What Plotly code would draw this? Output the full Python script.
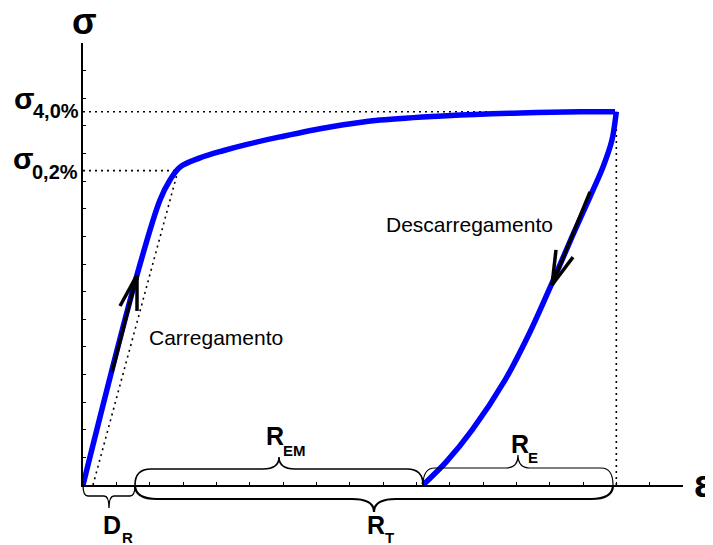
import plotly.graph_objects as go

# ---------------- data (axis units: strain ticks 0..18, stress ticks 0..16) ----------------
strain_loading = [0.0, 1.62, 2.31, 2.61, 2.91, 3.51, 4.20, 4.92, 5.91, 7.41, 8.91, 10.92, 12.90, 14.91, 15.96]
stress_loading = [0.0, 7.60, 10.32, 11.04, 11.51, 11.84, 12.10, 12.33, 12.60, 12.96, 13.21, 13.37, 13.46, 13.51, 13.51]

strain_unloading = [16.00, 15.87, 15.60, 15.21, 14.67, 14.07, 13.41, 12.66, 11.67, 10.89, 10.20]
stress_unloading = [13.51, 12.49, 11.51, 10.43, 8.98, 7.31, 5.54, 3.80, 1.99, 0.83, 0.0]

sigma_02 = 11.38          # stress at 0.2 % offset
sigma_40 = 13.51          # stress at 4.0 %
strain_40 = 16.0          # strain at 4.0 %
offset_start = 0.30       # start of 0.2 % offset line
knee_strain = 2.85        # strain at sigma_0,2%
residual_strain = 10.20   # residual strain after unloading
dr_end = 1.56             # end of D_R interval
rt_end = 15.9             # end of R_T / R_E intervals

# arrows: (tail_x, tail_y, tip_x, tip_y, head1_x, head1_y, head2_x, head2_y)
arrow_loading = [0.87, 4.09, 1.62, 7.60, 1.11, 6.48, 1.62, 6.30]
arrow_unloading = [15.21, 10.61, 14.07, 7.24, 14.19, 8.51, 14.70, 8.25]

X_MAX, Y_MAX = 18, 16

# ---------------- layout helpers ----------------
OFF = 8                      # browser body margin
L, T, W, H = 83, 43, 600, 442
FIG_W, FIG_H = 713 - OFF, 545 - OFF

def PX(px):                  # reference pixel -> paper x
    return (px - L) / W
def PY(py):                  # reference pixel -> paper y
    return (T + H - py) / H
def DX(v):                   # data x -> paper x
    return v / X_MAX

FONT = "Liberation Sans, Arial, sans-serif"

fig = go.Figure()

fig.add_trace(go.Scatter(x=strain_loading, y=stress_loading, mode="lines",
                         line=dict(color="#0000ff", width=5.5, shape="spline", smoothing=1.0),
                         hoverinfo="skip", showlegend=False, cliponaxis=False))
fig.add_trace(go.Scatter(x=strain_unloading, y=stress_unloading, mode="lines",
                         line=dict(color="#0000ff", width=5.5, shape="spline", smoothing=0.8),
                         hoverinfo="skip", showlegend=False, cliponaxis=False))

dot = dict(color="black", width=1.6, dash="2px,4px")
shapes = [
    dict(type="line", x0=0, y0=sigma_40, x1=strain_40, y1=sigma_40, line=dot, layer="below"),
    dict(type="line", x0=0, y0=sigma_02, x1=knee_strain, y1=sigma_02, line=dot, layer="below"),
    dict(type="line", x0=strain_40, y0=0, x1=strain_40, y1=sigma_40, line=dot, layer="below"),
    dict(type="line", x0=offset_start, y0=0, x1=knee_strain, y1=sigma_02, line=dot, layer="below"),
]

for a in (arrow_loading, arrow_unloading):
    st = dict(color="black", width=3.5)
    shapes.append(dict(type="line", x0=a[0], y0=a[1], x1=a[2], y1=a[3], line=st))
    shapes.append(dict(type="line", x0=a[4], y0=a[5], x1=a[2], y1=a[3], line=st))
    shapes.append(dict(type="line", x0=a[6], y0=a[7], x1=a[2], y1=a[3], line=st))

def brace(x0, x1, yh_px, ytip_px, r_px, width):
    # x0, x1 in data units; vertical offsets / radius in reference pixels
    p0, p1 = DX(x0), DX(x1)
    pm = (p0 + p1) / 2
    r = r_px / W
    yh, yt = PY(T + H + yh_px), PY(T + H + ytip_px)
    path = (f"M {p0},0 Q {p0},{yh} {p0 + r},{yh} L {pm - r},{yh} "
            f"Q {pm},{yh} {pm},{yt} Q {pm},{yh} {pm + r},{yh} "
            f"L {p1 - r},{yh} Q {p1},{yh} {p1},0")
    return dict(type="path", xref="paper", yref="paper", path=path,
                line=dict(color="black", width=width))

shapes.append(brace(0, dr_end, 11, 23, 5, 1.3))
shapes.append(brace(dr_end, rt_end, 14, 27, 22, 2.2))
shapes.append(brace(dr_end, residual_strain, -16, -28, 16, 1.6))
shapes.append(brace(residual_strain, rt_end, -17, -30, 12, 1.2))

ann = []
def txt(s, px, py, size, bold=True, xanchor="center"):
    ann.append(dict(x=PX(px), y=PY(py), xref="paper", yref="paper",
                    text=f"<b>{s}</b>" if bold else s,
                    showarrow=False, xanchor=xanchor, yanchor="middle",
                    font=dict(family=FONT, size=size, color="black")))

txt("σ", 84, 22, 36)
txt("σ", 24, 98, 30)
txt("4,0%", 56, 111, 20)
txt("σ", 23, 158, 30)
txt("0,2%", 55, 172, 20)
txt("ε", 692, 484, 38, xanchor="left")
txt("Carregamento", 147, 337, 21, bold=False, xanchor="left")
txt("Descarregamento", 384, 224, 21, bold=False, xanchor="left")
txt("R", 275, 436, 25)
txt("EM", 294, 450, 15)
txt("R", 520, 444, 25)
txt("E", 533, 457, 15)
txt("D", 112, 525, 25)
txt("R", 127, 537, 15)
txt("R", 376, 525, 25)
txt("T", 389, 537, 15)

axis_common = dict(showgrid=False, zeroline=False, showticklabels=False, ticks="inside",
                   ticklen=3, tickwidth=1, tickcolor="black", dtick=1, tick0=0,
                   showline=True, linecolor="black", linewidth=2, fixedrange=True)

fig.update_layout(
    width=FIG_W, height=FIG_H,
    margin=dict(l=L - OFF, r=FIG_W - (L - OFF) - W, t=T - OFF, b=FIG_H - (T - OFF) - H),
    paper_bgcolor="white", plot_bgcolor="white",
    xaxis=dict(range=[0, X_MAX], **axis_common),
    yaxis=dict(range=[0, Y_MAX], **axis_common),
    shapes=shapes, annotations=ann, showlegend=False,
)

fig.write_html("out.html")
